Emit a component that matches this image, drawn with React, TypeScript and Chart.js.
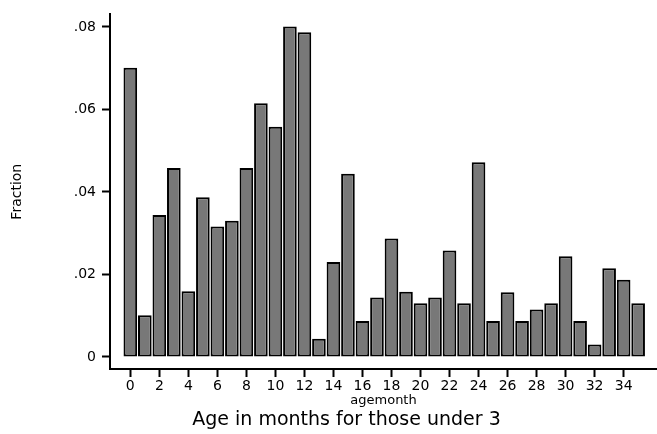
import React, { useEffect, useRef } from "react";
import { Chart, registerables } from "chart.js";

Chart.register(...registerables);

const months = [0, 1, 2, 3, 4, 5, 6, 7, 8, 9, 10, 11, 12, 13, 14, 15, 16, 17, 18, 19, 20, 21, 22, 23, 24, 25, 26, 27, 28, 29, 30, 31, 32, 33, 34, 35];
const fractions = [
  0.0701, 0.0101, 0.0344, 0.0458, 0.0159, 0.0387, 0.0316, 0.0330, 0.0458, 0.0615,
  0.0558, 0.0801, 0.0787, 0.0044, 0.0230, 0.0444, 0.0087, 0.0144, 0.0287, 0.0158,
  0.0130, 0.0144, 0.0258, 0.0130, 0.0472, 0.0087, 0.0157, 0.0087, 0.0115, 0.0130,
  0.0244, 0.0087, 0.0030, 0.0215, 0.0187, 0.0130,
];
const xTickValues = [0, 2, 4, 6, 8, 10, 12, 14, 16, 18, 20, 22, 24, 26, 28, 30, 32, 34];
const yTickValues = [0, 0.02, 0.04, 0.06, 0.08];
const yTitle = "Fraction";
const xTitle = "agemonth";
const caption = "Age in months for those under 3";

const FONT = "'DejaVu Sans', sans-serif";

const captionPlugin = {
  id: "caption",
  afterDraw(chart: any) {
    const ctx = chart.ctx;
    ctx.save();
    ctx.font = `19px ${FONT}`;
    ctx.fillStyle = "#000";
    ctx.textAlign = "center";
    ctx.textBaseline = "alphabetic";
    ctx.fillText(caption, 346.5, 425);
    ctx.restore();
  },
};

export default function App() {
  const ref = useRef<HTMLCanvasElement | null>(null);

  useEffect(() => {
    if (!ref.current) return;
    const chart = new Chart(ref.current, {
      type: "bar",
      data: {
        datasets: [
          {
            data: months.map((m, i) => ({ x: m, y: fractions[i] })),
            backgroundColor: "#787878",
            borderColor: "#000",
            borderWidth: 2,
            borderSkipped: false,
            barPercentage: 0.94,
            categoryPercentage: 1,
          },
        ],
      },
      plugins: [captionPlugin],
      options: {
        animation: false,
        responsive: false,
        maintainAspectRatio: false,
        layout: { padding: { top: 8, left: 0, right: 0, bottom: 0 } },
        plugins: {
          legend: { display: false },
          tooltip: { enabled: false },
          title: { display: false },
        },
        scales: {
          x: {
            type: "linear",
            offset: false,
            min: -1.4,
            max: 36.3,
            afterBuildTicks(scale: any) {
              scale.ticks = xTickValues.map((v) => ({ value: v }));
            },
            afterFit(scale: any) {
              scale.height = 65;
            },
            grid: {
              display: true,
              offset: false,
              drawOnChartArea: false,
              drawTicks: true,
              tickLength: 8,
              tickColor: "#000",
              tickWidth: 2,
            },
            border: { display: true, color: "#000", width: 2 },
            ticks: {
              color: "#000",
              font: { family: FONT, size: 14 },
              padding: 1,
              maxRotation: 0,
              autoSkip: false,
              callback: (v: any) => String(v),
            },
            title: {
              display: true,
              text: xTitle,
              color: "#000",
              font: { family: FONT, size: 13 },
              padding: { top: 0, bottom: 26 },
            },
          },
          y: {
            type: "linear",
            min: -0.00293,
            max: 0.08302,
            afterBuildTicks(scale: any) {
              scale.ticks = yTickValues.map((v) => ({ value: v }));
            },
            afterFit(scale: any) {
              scale.width = 110;
            },
            grid: {
              display: true,
              drawOnChartArea: false,
              drawTicks: true,
              tickLength: 8,
              tickColor: "#000",
              tickWidth: 2,
            },
            border: { display: true, color: "#000", width: 2 },
            ticks: {
              color: "#000",
              font: { family: FONT, size: 14 },
              padding: 6,
              callback: (v: any) => {
                const n = Number(v);
                if (n === 0) return "0";
                return n.toFixed(2).replace(/^0/, "");
              },
            },
            title: {
              display: true,
              text: yTitle,
              color: "#000",
              font: { family: FONT, size: 14 },
              padding: { top: 9, bottom: 0 },
            },
          },
        },
      },
    });
    return () => chart.destroy();
  }, []);

  return (
    <div style={{ position: "fixed", left: 0, top: 0, width: 657, height: 434, background: "#fff" }}>
      <canvas ref={ref} width={657} height={434} style={{ width: 657, height: 434, display: "block" }} />
    </div>
  );
}
